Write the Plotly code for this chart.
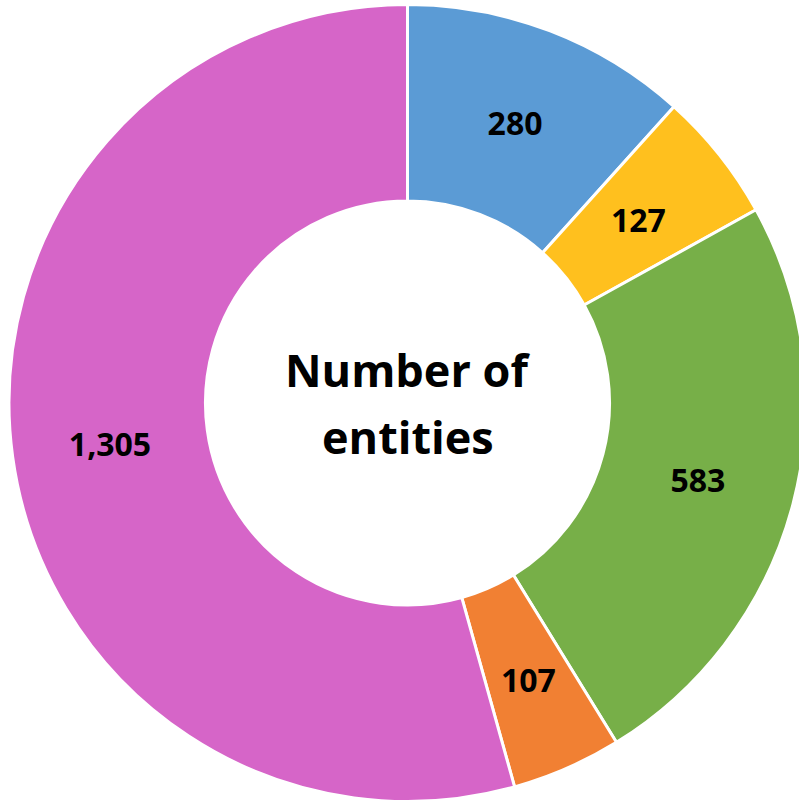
import plotly.graph_objects as go

categories = ["A", "B", "C", "D", "E"]
values = [280, 127, 583, 107, 1305]
labels_text = ["280", "127", "583", "107", "1,305"]
colors = ["#5B9BD5", "#FFC01E", "#77AF48", "#F18033", "#D665C8"]
small_slice = [False, True, False, True, False]
center_lines = ["Number of", "entities"]

FIG_W, FIG_H = 815, 802
CX, CY_TOP = 407.5, 403.0   # pie centre in pixels from left / top
R_OUT = 398.5               # outer radius in pixels
R_LABEL = 344               # outer radius of the invisible label ring for thin slices


def domain_for(r):
    cy = FIG_H - CY_TOP
    return dict(x=[(CX - r) / FIG_W, (CX + r) / FIG_W],
                y=[max(0, (cy - r) / FIG_H), min(1, (cy + r) / FIG_H)])


big_text = [t if not s else "" for t, s in zip(labels_text, small_slice)]
small_text = [t if s else "" for t, s in zip(labels_text, small_slice)]
font = dict(family="Open Sans", size=32, color="black", weight="bold")

fig = go.Figure()
fig.add_trace(go.Pie(
    labels=categories,
    values=values,
    text=big_text,
    textinfo="text",
    textposition="inside",
    insidetextorientation="horizontal",
    hole=0.507,
    sort=False,
    direction="clockwise",
    rotation=0,
    marker=dict(colors=colors, line=dict(color="white", width=3)),
    textfont=font,
    showlegend=False,
    domain=domain_for(R_OUT),
))
fig.add_trace(go.Pie(
    labels=categories,
    values=values,
    text=small_text,
    textinfo="text",
    textposition="inside",
    insidetextorientation="horizontal",
    hole=0.5,
    sort=False,
    direction="clockwise",
    rotation=0,
    marker=dict(colors=["rgba(0,0,0,0)"] * len(values), line=dict(width=0)),
    textfont=font,
    showlegend=False,
    hoverinfo="skip",
    domain=domain_for(R_LABEL),
))
for line, ypos in zip(center_lines, [0.5387, 0.4557]):
    fig.add_annotation(
        text=line, x=CX / FIG_W, y=ypos, xref="paper", yref="paper",
        xanchor="center", yanchor="middle",
        showarrow=False, font=dict(family="Open Sans", size=45, color="black", weight="bold"),
    )
fig.update_layout(
    width=FIG_W, height=FIG_H,
    margin=dict(l=0, r=0, t=0, b=0),
    paper_bgcolor="white", plot_bgcolor="white",
)
fig.write_html(
    "out.html",
    config={"displayModeBar": False},
    post_script="document.body.style.margin='0';document.body.style.overflow='hidden';",
)
